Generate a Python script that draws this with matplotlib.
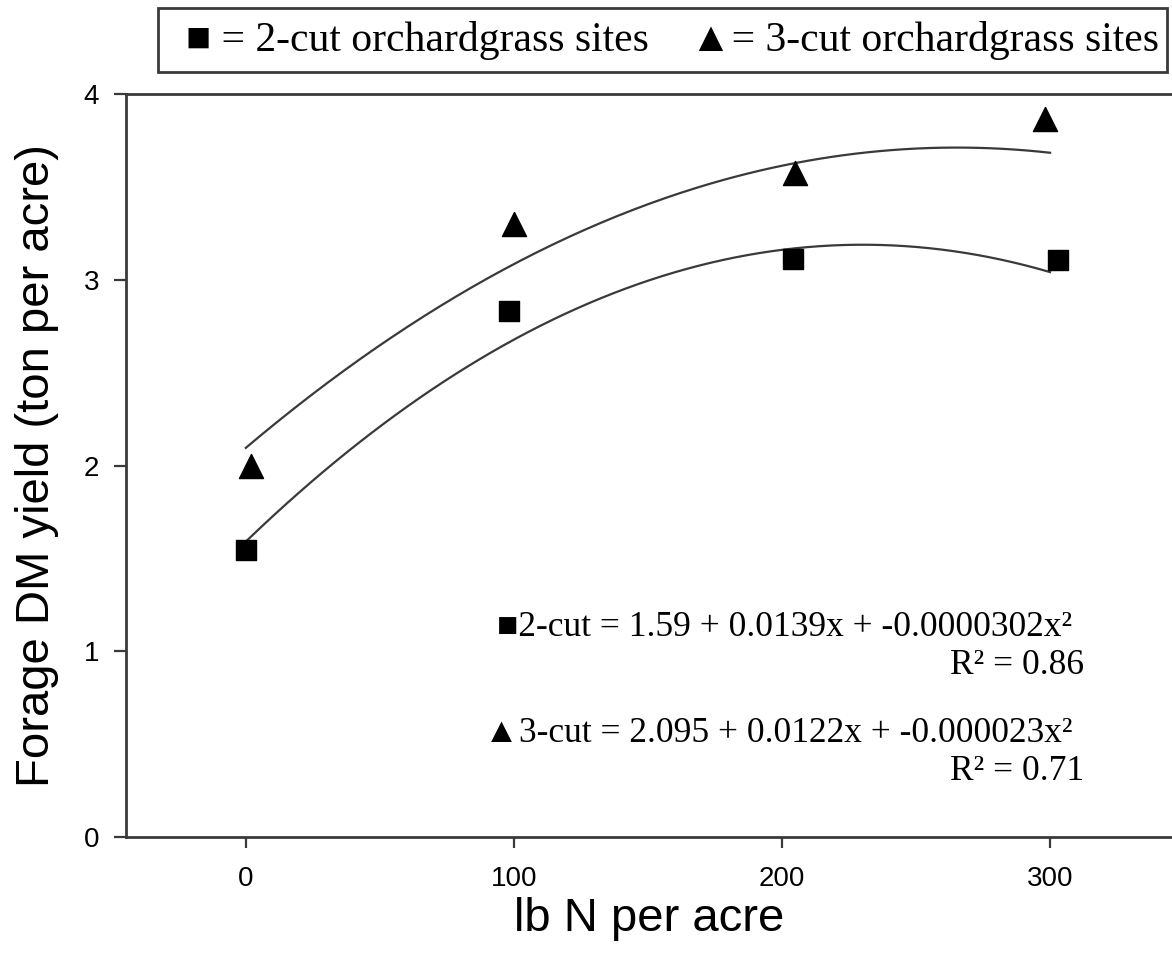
import numpy as np
import matplotlib.pyplot as plt

# --- data ---
n_rate_2cut = [0, 98, 204, 303]
yield_2cut = [1.545, 2.83, 3.115, 3.105]
n_rate_3cut = [2, 100, 205, 298]
yield_3cut = [2.0, 3.30, 3.575, 3.865]

# quadratic fits as printed on the chart (c0, c1, c2)
fit_2cut = [1.59, 0.0139, -0.0000302]
fit_3cut = [2.095, 0.0122, -0.000023]
r2_2cut = 0.86
r2_3cut = 0.71

x_ticks = [0, 100, 200, 300]
y_ticks = [0, 1, 2, 3, 4]

sans = ['Liberation Sans', 'DejaVu Sans']
serif = ['Liberation Serif', 'DejaVu Serif']
dark = '#3a3a3a'

fig = plt.figure(figsize=(11.72, 9.6), dpi=100)
ax = fig.add_axes([0.10725, 0.1284, 1 - 0.10725, 0.9018 - 0.1284])

xs = np.linspace(0, 300, 200)
ax.plot(xs, np.polyval(fit_2cut[::-1], xs), color=dark, lw=1.6)
ax.plot(xs, np.polyval(fit_3cut[::-1], xs), color=dark, lw=1.6)
ax.scatter(n_rate_2cut, yield_2cut, marker='s', s=210, color='black', zorder=3)
ax.scatter(n_rate_3cut, yield_3cut, marker='^', s=300, color='black', zorder=3)

ax.set_xlim(-44.8, 345.5)
ax.set_ylim(0, 4)
ax.set_xticks(x_ticks)
ax.set_yticks(y_ticks)
ax.spines['right'].set_visible(False)
for s in ['left', 'bottom', 'top']:
    ax.spines[s].set_color(dark)
    ax.spines[s].set_linewidth(2)
ax.tick_params(axis='y', length=9, width=1.6, color=dark, pad=10)
ax.tick_params(axis='x', length=8, width=1.6, color=dark, pad=13)
for lab in ax.get_xticklabels() + ax.get_yticklabels():
    lab.set_family(sans)
    lab.set_fontsize(20)

ax.set_xlabel('lb N per acre', family=sans, fontsize=34, labelpad=4)
ax.set_ylabel('Forage DM yield (ton per acre)', family=sans, fontsize=34, labelpad=18)

# equations
eq_kw = dict(family=serif, fontsize=25.5, ha='right', va='center')
fig.text(1072 / 1172, 1 - 628 / 960,
         '\u25a02-cut = %.2f + %.4fx + %.7fx\u00b2' % tuple(fit_2cut), **eq_kw)
fig.text(1084 / 1172, 1 - 665 / 960, 'R\u00b2 = %.2f' % r2_2cut, **eq_kw)
fig.text(1072 / 1172, 1 - 733 / 960,
         '\u25b23-cut = %.3f + %.4fx + %.6fx\u00b2' % tuple(fit_3cut), **eq_kw)
fig.text(1084 / 1172, 1 - 772 / 960, 'R\u00b2 = %.2f' % r2_3cut, **eq_kw)

# legend box at the top
fig.patches.append(plt.Rectangle((158 / 1172, 1 - 72 / 960), (1167 - 158) / 1172, 64 / 960,
                                 transform=fig.transFigure, fill=False,
                                 edgecolor=dark, lw=2))
fig.text(672 / 1172, 1 - 40 / 960,
         '\u25a0 = 2-cut orchardgrass sites    \u25b2= 3-cut orchardgrass sites',
         family=serif, fontsize=30, ha='center', va='center')

fig.savefig('out.png', dpi=100)
